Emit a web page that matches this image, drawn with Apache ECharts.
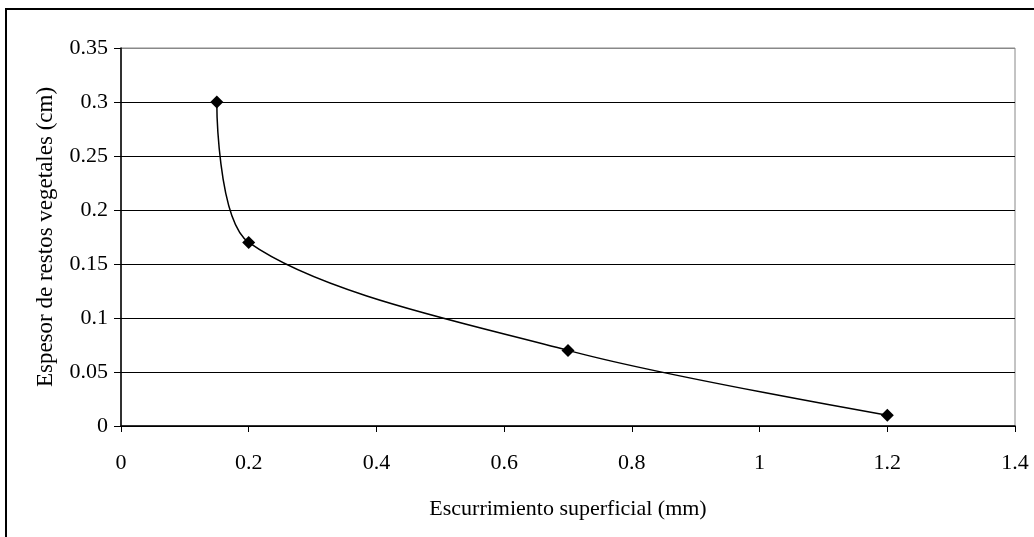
<!DOCTYPE html>
<html>
<head>
    <meta charset="utf-8">
    <title>ECharts</title>
    <script type="text/javascript" src="https://cdn.jsdelivr.net/npm/echarts@6/dist/echarts.min.js"></script>
</head>
<body style="margin:0;">
<div id="main" style="width: 1034px;height:537px;"></div>

<script type="text/javascript">
    // datos
    var escurrimiento = [0.15, 0.2, 0.7, 1.2];
    var espesor = [0.3, 0.17, 0.07, 0.01];

    var chart = echarts.init(document.getElementById('main'));
    var fuente = '"Liberation Serif", "DejaVu Serif", serif';

    var puntos = escurrimiento.map(function (x, i) { return [x, espesor[i]]; });

    var option = {
        backgroundColor: '#fff',
        animation: false,
        textStyle: { fontFamily: fuente, color: '#000' },
        graphic: [{
            type: 'rect',
            shape: { x: 6, y: 9, width: 1040, height: 540 },
            style: { fill: 'none', stroke: '#000', lineWidth: 2 }
        }],
        grid: { left: 121, right: 19, top: 48, bottom: 111, show: true, borderColor: '#888', borderWidth: 1 },
        xAxis: {
            type: 'value',
            min: 0, max: 1.4, interval: 0.2,
            name: 'Escurrimiento superficial (mm)',
            nameLocation: 'middle',
            nameGap: 72,
            nameTextStyle: { fontSize: 22, fontFamily: fuente, color: '#000' },
            axisLine: { lineStyle: { color: '#000', width: 1.5 } },
            axisTick: { show: true, length: 6, lineStyle: { color: '#000' } },
            axisLabel: { fontSize: 22, color: '#000', margin: 26, fontFamily: fuente },
            splitLine: { show: false }
        },
        yAxis: {
            type: 'value',
            min: 0, max: 0.35, interval: 0.05,
            name: 'Espesor de restos vegetales (cm)',
            nameLocation: 'middle',
            nameGap: 64,
            nameTextStyle: { fontSize: 23, fontFamily: fuente, color: '#000' },
            axisLine: { show: true, lineStyle: { color: '#000', width: 1.5 } },
            axisTick: { show: true, length: 7, lineStyle: { color: '#000' } },
            axisLabel: { fontSize: 22, color: '#000', margin: 13, fontFamily: fuente },
            splitLine: { show: true, lineStyle: { color: ['#000', '#000', '#000', '#000', '#000', '#000', '#000', '#888'], width: 1 } }
        },
        series: [{
            type: 'line',
            data: puntos,
            smooth: 0.3,
            symbol: 'diamond',
            symbolSize: 13,
            itemStyle: { color: '#000' },
            lineStyle: { color: '#000', width: 1.5 }
        }]
    };
    chart.setOption(option);
</script>
</body>
</html>
